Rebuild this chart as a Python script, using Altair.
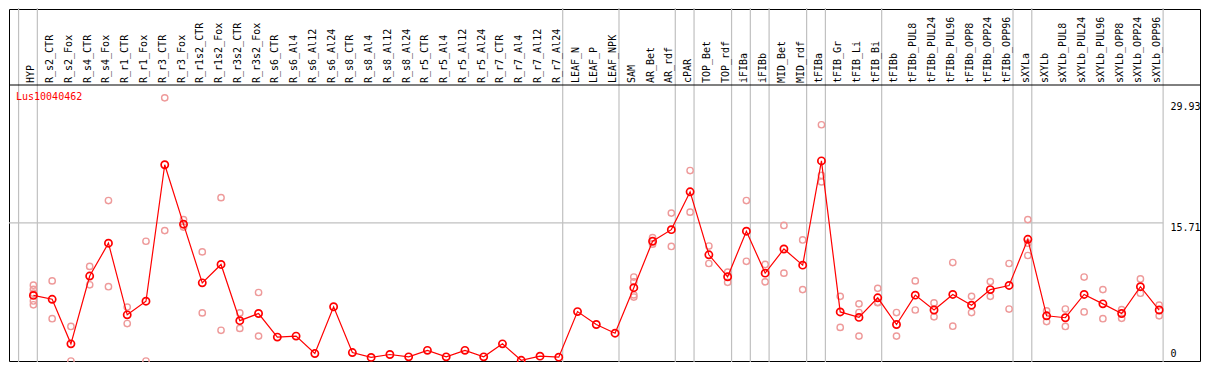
import altair as alt
import pandas as pd

gene = "Lus10040462"

samples = [
    "HYP", "R_s2_CTR", "R_s2_Fox", "R_s4_CTR", "R_s4_Fox", "R_r1_CTR", "R_r1_Fox",
    "R_r3_CTR", "R_r3_Fox", "R_r1s2_CTR", "R_r1s2_Fox", "R_r3s2_CTR", "R_r3s2_Fox",
    "R_s6_CTR", "R_s6_Al4", "R_s6_Al12", "R_s6_Al24", "R_s8_CTR", "R_s8_Al4",
    "R_s8_Al12", "R_s8_Al24", "R_r5_CTR", "R_r5_Al4", "R_r5_Al12", "R_r5_Al24",
    "R_r7_CTR", "R_r7_Al4", "R_r7_Al12", "R_r7_Al24", "LEAF_N", "LEAF_P", "LEAF_NPK",
    "SAM", "AR_Bet", "AR_rdf", "cPAR", "TOP_Bet", "TOP_rdf", "iFIBa", "iFIBb",
    "MID_Bet", "MID_rdf", "tFIBa", "tFIB_Gr", "tFIB_Li", "tFIB_Bi", "tFIBb",
    "tFIBb_PUL8", "tFIBb_PUL24", "tFIBb_PUL96", "tFIBb_OPP8", "tFIBb_OPP24",
    "tFIBb_OPP96", "sXYLa", "sXYLb", "sXYLb_PUL8", "sXYLb_PUL24", "sXYLb_PUL96",
    "sXYLb_OPP8", "sXYLb_OPP24", "sXYLb_OPP96",
]

means = [
    7.46, 7.02, 1.95, 9.66, 13.40, 5.25, 6.80, 22.32, 15.56, 8.89,
    10.98, 4.59, 5.40, 2.72, 2.83, 0.85, 6.17, 0.96, 0.41, 0.74,
    0.47, 1.21, 0.47, 1.21, 0.47, 1.95, 0.08, 0.55, 0.44, 5.62,
    4.15, 3.16, 8.34, 13.62, 14.94, 19.24, 12.08, 9.58, 14.76, 9.99,
    12.74, 10.90, 22.76, 5.58, 4.96, 7.19, 4.15, 7.49, 5.80, 7.57,
    6.35, 8.12, 8.59, 13.84, 5.14, 4.92, 7.57, 6.50, 5.40, 8.45, 5.80,
]

replicates = [
    [8.62, 8.15, 7.71, 6.83, 6.39], [9.11, 4.81], [3.93, 0.0], [10.76, 8.67],
    [18.25, 8.45], [6.13, 4.26], [13.62, 0.0], [29.93, 14.83], [16.08, 15.23],
    [12.41, 5.47], [18.58, 3.49], [5.47, 3.71], [7.79, 2.83],
    [], [], [], [], [], [], [], [], [], [], [], [], [], [], [], [], [], [], [],
    [9.55, 9.00, 7.52, 7.27], [14.02, 13.29], [16.82, 13.03], [21.66, 16.93],
    [13.07, 11.09], [10.10, 8.95], [18.25, 11.34], [10.98, 9.00], [15.42, 9.99],
    [13.77, 8.12], [26.87, 21.11, 20.37], [7.35, 3.82], [6.50, 5.51, 2.83],
    [8.26, 6.68, 6.63], [5.51, 2.83], [9.11, 5.80], [6.61, 5.03], [11.20, 3.96],
    [7.35, 5.51], [9.03, 7.35], [11.09, 5.91], [16.08, 13.40, 12.00],
    [5.69, 4.48], [5.91, 3.93], [9.55, 5.58], [8.12, 4.81], [5.84, 4.85],
    [9.33, 7.71], [6.35, 5.14],
]

# group separators: drawn just after these sample indices
separators_after = [-1, 0, 28, 31, 34, 35, 37, 38, 39, 41, 42, 45, 52, 53, 60]

y_tick_values = [29.93, 15.71, 0]
y_tick_labels = ["29.93", "15.71", "0"]

# ---------------- layout constants ----------------
W, H = 1191, 352           # plot area (whole chart minus 1px padding)
COL0_PX, STEP_PX = 24.4, 18.763
LINE_PX = 76               # y pixel of black line under the sample labels
LABEL_LINE = 31.39         # data value at that line
SEP_OFF = 0.21
YLAB_X = 60.6
FONT = "DejaVu Sans Mono"

x_lo = -COL0_PX / STEP_PX
x_hi = (W - COL0_PX) / STEP_PX
k = (H - LINE_PX) / LABEL_LINE
y_hi = H / k

xs = alt.Scale(domain=[x_lo, x_hi], nice=False, zero=False)
ys = alt.Scale(domain=[0, y_hi], nice=False, zero=False)

df_mean = pd.DataFrame({"idx": list(range(len(samples))), "sample": samples, "value": means})
df_rep = pd.DataFrame(
    [(i, v) for i, reps in enumerate(replicates) for v in reps], columns=["idx", "value"]
)
df_sep = pd.DataFrame({"pos": [s + SEP_OFF for s in separators_after]})
df_ticks = pd.DataFrame({"value": y_tick_values, "label": y_tick_labels})
df_grid = pd.DataFrame({"value": [15.71], "x1": [x_lo], "x2": [len(samples) - 1 + SEP_OFF]})
df_gene = pd.DataFrame({"gene": [gene]})

seps = alt.Chart(df_sep).mark_rule(color="#c0c0c0", strokeWidth=1.2).encode(
    x=alt.X("pos:Q", scale=xs, axis=None), y=alt.value(-1), y2=alt.value(H + 1)
)

grid = alt.Chart(df_grid).mark_rule(color="#c0c0c0", strokeWidth=1.2).encode(
    x=alt.X("x1:Q", scale=xs, axis=None), x2="x2:Q",
    y=alt.Y("value:Q", scale=ys, axis=None),
)

top_line = alt.Chart(df_gene).mark_rule(color="black", strokeWidth=1).encode(
    x=alt.value(0), x2=alt.value(W),
    y=alt.YDatum(LABEL_LINE, type="quantitative", scale=ys, axis=None),
)

labels = alt.Chart(df_mean).mark_text(
    angle=270, align="left", baseline="alphabetic", dx=2, dy=1,
    font=FONT, fontSize=10, color="black",
).encode(
    x=alt.X("idx:Q", scale=xs, axis=None),
    y=alt.YDatum(LABEL_LINE, type="quantitative", scale=ys, axis=None),
    text="sample:N",
)

reps = alt.Chart(df_rep).mark_point(
    shape="circle", filled=False, color="#ee9a9a", size=40, strokeWidth=1.4, opacity=1
).encode(
    x=alt.X("idx:Q", scale=xs, axis=None),
    y=alt.Y("value:Q", scale=ys, axis=None),
)

line = alt.Chart(df_mean).mark_line(color="#ff0000", strokeWidth=1.2).encode(
    x=alt.X("idx:Q", scale=xs, axis=None),
    y=alt.Y("value:Q", scale=ys, axis=None),
)

pts = alt.Chart(df_mean).mark_point(
    shape="circle", filled=False, color="#ff0000", size=52, strokeWidth=1.7, opacity=1
).encode(
    x=alt.X("idx:Q", scale=xs, axis=None),
    y=alt.Y("value:Q", scale=ys, axis=None),
)

def ylab(val, baseline, dy):
    return alt.Chart(df_ticks).transform_filter(
        alt.datum.value == val
    ).mark_text(
        align="left", baseline=baseline, dy=dy, font=FONT, fontSize=10, color="black"
    ).encode(
        x=alt.XDatum(YLAB_X, type="quantitative", scale=xs, axis=None),
        y=alt.Y("value:Q", scale=ys, axis=None),
        text="label:N",
    )

ylabels = ylab(29.93, "top", 4) + ylab(15.71, "top", 0) + ylab(0, "alphabetic", -4)

title = alt.Chart(df_gene).mark_text(
    align="left", baseline="alphabetic", font=FONT, fontSize=10, color="#ff0000"
).encode(x=alt.value(7), y=alt.value(90.5), text="gene:N")

chart = alt.layer(
    seps, grid, top_line, labels, reps, line, pts, ylabels, title
).properties(
    width=W, height=H,
    autosize=alt.AutoSizeParams(type="none"),
    padding={"left": 1, "top": 1, "right": 1, "bottom": 1},
    background="white",
).configure_view(stroke="black", strokeWidth=1)

chart.save("out.html", embed_options={"renderer": "svg", "actions": False})
